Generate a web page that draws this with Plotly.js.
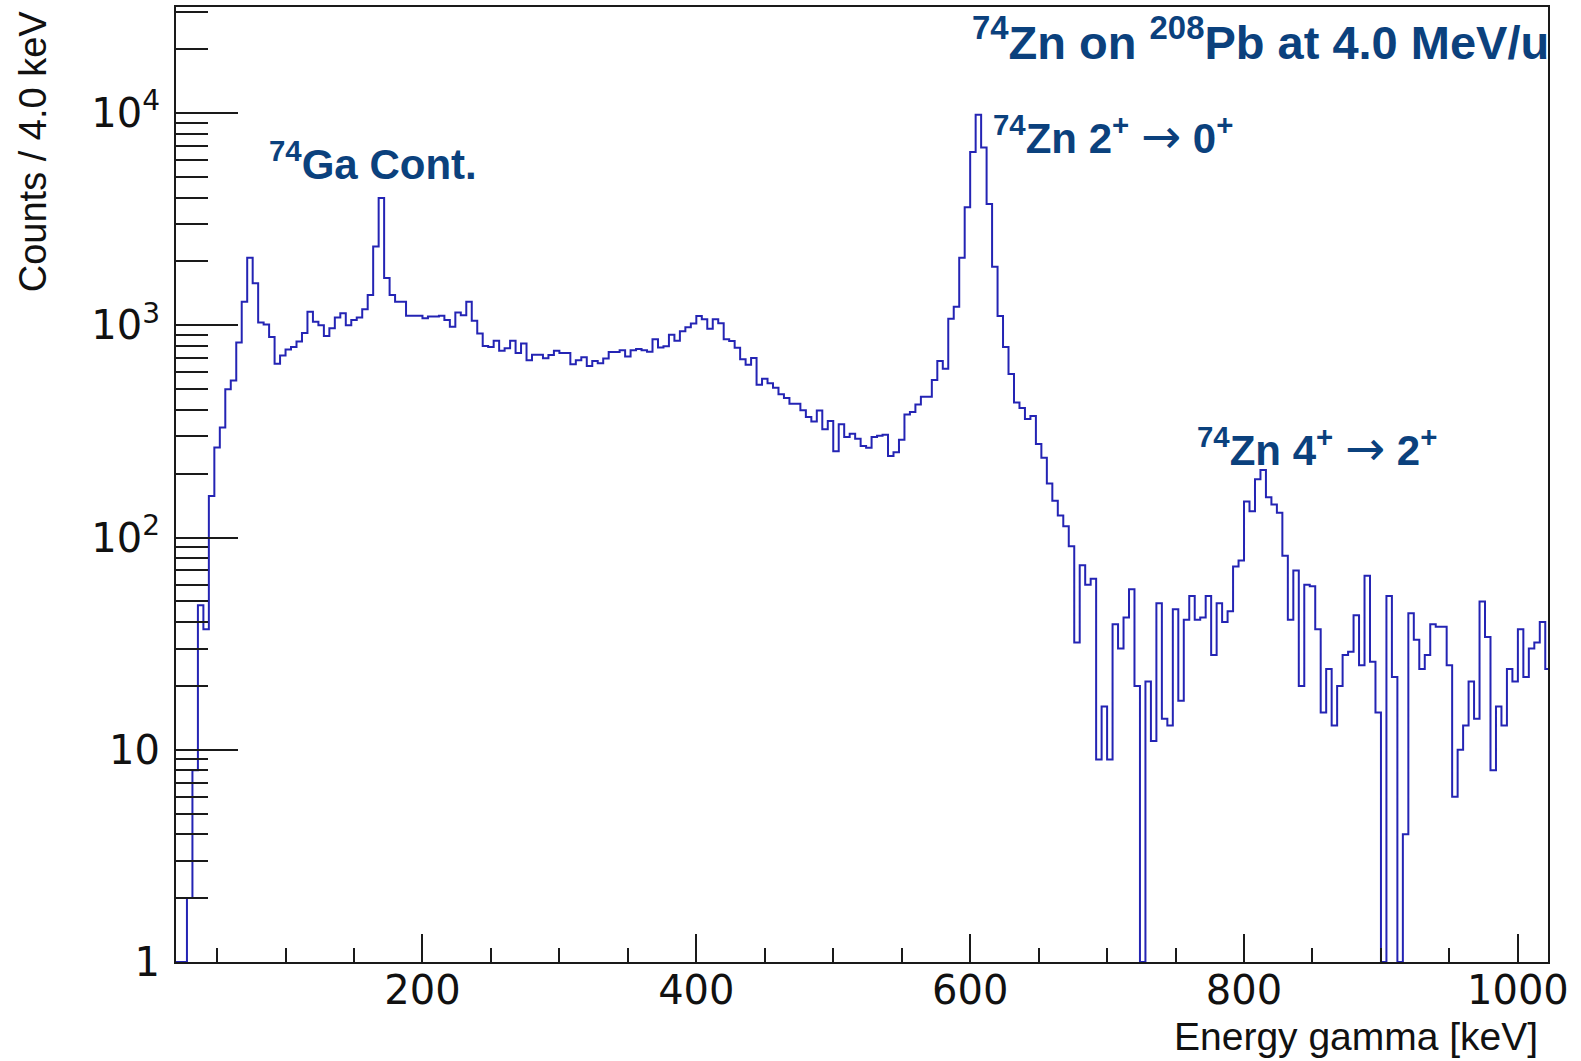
<!DOCTYPE html>
<html>
<head>
<meta charset="utf-8">
<script src="https://cdn.plot.ly/plotly-3.0.1.min.js"></script>
<style>
html, body { margin: 0; padding: 0; background: #ffffff; }
#chart { width: 1581px; height: 1061px; }
</style>
</head>
<body>
<div id="chart"></div>
<script>
// Histogram binning (keV)
const binStart = 20;
const binWidth = 4;

// Counts per 4 keV bin, first bin 20-24 keV (bins drawn at the floor are empty)
const counts = [
  1, 1, 2, 8, 48, 37, 157, 266, 330, 500,              // 20-56
  550, 830, 1290, 2080, 1580, 1030, 1010, 880, 660, 720, // 60-96
  770, 790, 840, 920, 1160, 1040, 1000, 890, 970, 1090,  // 100-136
  1140, 1000, 1060, 1090, 1190, 1390, 2350, 3980, 1670, 1390, // 140-176
  1290, 1290, 1110, 1110, 1110, 1080, 1100, 1100, 1110, 1060, // 180-216
  985, 1150, 1115, 1290, 1050, 915, 800, 790, 845, 760,  // 220-256
  780, 845, 740, 820, 685, 727, 727, 700, 725, 760,      // 260-296
  740, 740, 655, 685, 708, 643, 680, 662, 698, 748,      // 300-336
  748, 763, 714, 763, 773, 763, 750, 860, 787, 798,      // 340-376
  903, 846, 937, 980, 1020, 1106, 1067, 964, 1067, 1022, // 380-416
  859, 844, 784, 693, 652, 701, 525, 560, 533, 508,      // 420-456
  474, 454, 427, 427, 398, 370, 352, 397, 324, 354,      // 460-496
  255, 342, 298, 308, 292, 270, 265, 298, 302, 305,      // 500-536
  242, 252, 289, 380, 391, 424, 461, 461, 552, 679,      // 540-576
  624, 1074, 1225, 2084, 3600, 6550, 9820, 6890, 3730, 1890, // 580-616
  1106, 790, 590, 433, 408, 362, 374, 276, 238, 180,     // 620-656
  149, 127, 113, 91, 32, 74, 60, 64, 9, 16,              // 660-696
  9, 39, 30, 42, 57, 20, 1, 21, 11, 49,                  // 700-736
  14, 13, 46, 17, 41, 53, 41, 42, 53, 28,                // 740-776
  49, 40, 45, 73, 78, 148, 133, 188, 208, 155,           // 780-816
  143, 131, 82, 41, 70, 20, 60, 59, 37, 15,              // 820-856
  24, 13, 20, 28, 29, 43, 25, 66, 26, 15,                // 860-896
  1, 53, 22, 1, 4, 44, 33, 24, 28, 39,                   // 900-936
  38, 38, 25, 6, 10, 13, 21, 14, 50, 34,                 // 940-976
  8, 16, 13, 24, 21, 37, 22, 30, 32, 40,                 // 980-1016
  24                                                     // 1020
];

// Axis ticks
const xTickStep = 200;
const xMinorStep = 50;
const yTickVals = [1, 10, 100, 1000, 10000];
const yTickText = ['1', '10', '10<sup>2</sup>', '10<sup>3</sup>', '10<sup>4</sup>'];
const yMinorMultipliers = [2, 3, 4, 5, 6, 7, 8, 9];

// Text
const arrow = '<span style="font-family:DejaVu Sans;font-weight:normal;font-size:48px">\u2192</span>';
const titleText = '<sup>74</sup>Zn on <sup>208</sup>Pb at 4.0 MeV/u';
const peakLabels = [
  '<sup>74</sup>Ga Cont.',
  '<sup>74</sup>Zn 2<sup>+</sup> ' + arrow + ' 0<sup>+</sup>',
  '<sup>74</sup>Zn 4<sup>+</sup> ' + arrow + ' 2<sup>+</sup>'
];
const xTitle = 'Energy gamma [keV]';
const yTitle = 'Counts / 4.0 keV';

// Build step outline from bin edges
const edges = counts.map((_, i) => binStart + i * binWidth);
edges.push(binStart + counts.length * binWidth);
const stepY = counts.concat([counts[counts.length - 1]]);

const yMinor = [];
yTickVals.forEach(d => yMinorMultipliers.forEach(m => yMinor.push(d * m)));

const labelColor = '#0b417d';
const labelFont = { family: 'Liberation Sans, Arial, sans-serif', size: 42, color: labelColor, weight: 700 };
const titleFont = { family: 'Liberation Sans, Arial, sans-serif', size: 47, color: labelColor, weight: 700 };
const axisColor = '#1a1a1a';
const tickFont = { family: 'DejaVu Sans, sans-serif', size: 40, color: '#111' };

const trace = {
  type: 'scatter',
  mode: 'lines',
  x: edges,
  y: stepY,
  line: { shape: 'hv', color: '#2424b4', width: 2 },
  hoverinfo: 'x+y'
};

const layout = {
  width: 1581,
  height: 1061,
  margin: { l: 176, r: 33, t: 7, b: 99, pad: 0 },
  paper_bgcolor: '#ffffff',
  plot_bgcolor: '#ffffff',
  showlegend: false,
  font: { family: 'Liberation Sans, Arial, sans-serif', color: '#111' },
  xaxis: {
    range: [20, 1022],
    tickmode: 'linear', tick0: 0, dtick: xTickStep,
    ticks: 'inside', ticklen: 28, tickwidth: 2, tickcolor: axisColor,
    minor: { tick0: 0, dtick: xMinorStep, ticks: 'inside', ticklen: 14, tickwidth: 2, tickcolor: axisColor, showgrid: false },
    showline: true, linecolor: axisColor, linewidth: 2, mirror: true,
    showgrid: false, zeroline: false,
    tickfont: tickFont,
    ticklabelstandoff: -8
  },
  yaxis: {
    type: 'log',
    range: [0, 4.5],
    tickmode: 'array', tickvals: yTickVals, ticktext: yTickText,
    ticks: 'inside', ticklen: 62, tickwidth: 2, tickcolor: axisColor,
    minor: { tickmode: 'array', tickvals: yMinor, ticks: 'inside', ticklen: 32, tickwidth: 2, tickcolor: axisColor, showgrid: false },
    showline: true, linecolor: axisColor, linewidth: 2, mirror: true,
    showgrid: false, zeroline: false,
    tickfont: tickFont,
    ticklabelstandoff: 6
  },
  annotations: [
    { xref: 'paper', yref: 'paper', x: 0.5787, y: 0.966, xanchor: 'left', yanchor: 'middle', text: titleText, showarrow: false, font: titleFont },
    { xref: 'paper', yref: 'paper', x: 0.0663, y: 0.8387, xanchor: 'left', yanchor: 'middle', text: peakLabels[0], showarrow: false, font: labelFont },
    { xref: 'paper', yref: 'paper', x: 0.594, y: 0.865, xanchor: 'left', yanchor: 'middle', text: peakLabels[1], showarrow: false, font: labelFont },
    { xref: 'paper', yref: 'paper', x: 0.7427, y: 0.538, xanchor: 'left', yanchor: 'middle', text: peakLabels[2], showarrow: false, font: labelFont },
    { xref: 'paper', yref: 'paper', x: 0.9942, y: -0.0785, xanchor: 'right', yanchor: 'middle', text: xTitle, showarrow: false, font: { family: 'Liberation Sans, Arial, sans-serif', size: 39, color: '#111' } },
    { xref: 'paper', yref: 'paper', x: -0.104, y: 0.999, xanchor: 'center', yanchor: 'top', textangle: -90, text: yTitle, showarrow: false, font: { family: 'Liberation Sans, Arial, sans-serif', size: 38, color: '#111' } }
  ]
};

Plotly.newPlot('chart', [trace], layout, { displayModeBar: false, staticPlot: true });
</script>
</body>
</html>
